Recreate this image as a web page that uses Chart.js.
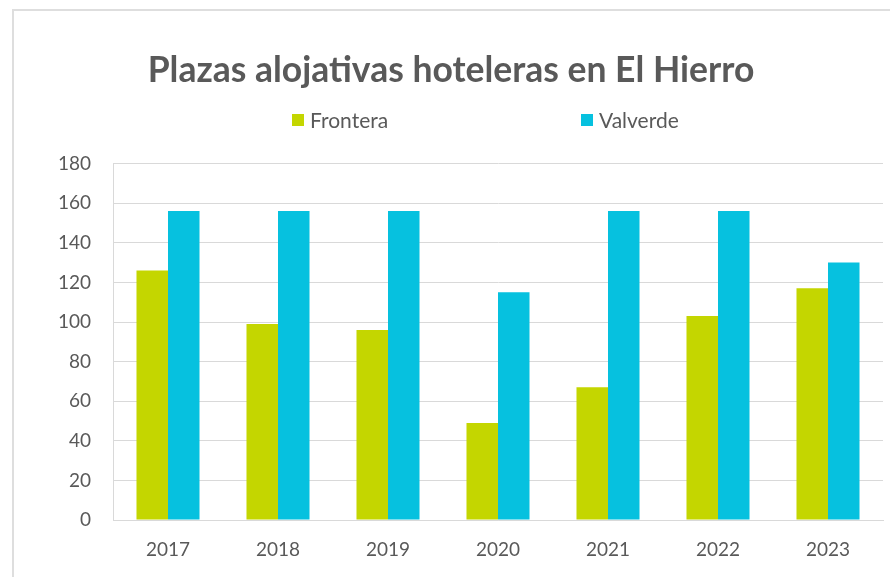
<!DOCTYPE html>
<html>
<head>
<meta charset="utf-8">
<script src="https://cdn.jsdelivr.net/npm/chart.js@4.4.0/dist/chart.umd.min.js"></script>
<style>
  html, body { margin: 0; padding: 0; background: #fff; overflow: hidden; }
  .frame { position: absolute; left: 12px; top: 9px; width: 1000px; height: 700px;
           border-left: 2px solid #dedede; border-top: 2px solid #dedede; }
  #chartBox { position: absolute; left: 0; top: 0; width: 902px; height: 577px; }
  .legend { position: absolute; left: 292px; top: 107px; display: flex;
            font-family: Lato, sans-serif; font-size: 21px; color: #595959; }
  .legend .item { display: flex; align-items: center; width: 289px; }
  .legend .item:last-child { width: auto; }
  .legend .box { width: 12px; height: 12px; margin-right: 6px; }
</style>
</head>
<body>
<div class="frame"></div>
<div id="chartBox"><canvas id="hotelChart" width="902" height="577"></canvas></div>
<div class="legend" id="legend"></div>
<script>
const years = ['2017', '2018', '2019', '2020', '2021', '2022', '2023'];
const frontera = [126, 99, 96, 49, 67, 103, 117];
const valverde = [156, 156, 156, 115, 156, 156, 130];
const seriesNames = ['Frontera', 'Valverde'];
const barColors = ['#c4d600', '#06c1df'];
const textColor = '#595959';
const gridColor = '#d9d9d9';

// legend drawn as html so the two entries can sit far apart like in excel
let legend = document.getElementById('legend');
seriesNames.forEach((name, i) => {
  let item = document.createElement('div');
  item.className = 'item';
  item.innerHTML = '<span class="box" style="background:' + barColors[i] + '"></span><span>' + name + '</span>';
  legend.appendChild(item);
});

const ctx = document.getElementById('hotelChart');

new Chart(ctx, {
  type: 'bar',
  data: {
    labels: years,
    datasets: [{
      label: seriesNames[0],
      data: frontera,
      backgroundColor: barColors[0]
    }, {
      label: seriesNames[1],
      data: valverde,
      backgroundColor: barColors[1]
    }]
  },
  options: {
    responsive: false,
    animation: false,
    categoryPercentage: 0.573,
    barPercentage: 1,
    layout: {
      padding: { left: 19, right: 19, top: 0, bottom: 0 }
    },
    plugins: {
      legend: { display: false },
      tooltip: { enabled: false },
      title: {
        display: true,
        text: 'Plazas alojativas hoteleras en El Hierro',
        color: textColor,
        font: { family: 'Lato', size: 35.5, weight: 'bold' },
        padding: { top: 49, bottom: 72 }
      }
    },
    scales: {
      x: {
        grid: { display: false },
        border: { display: true, color: gridColor, width: 1 },
        ticks: { color: textColor, font: { family: 'Lato', size: 19 }, padding: 10 },
        afterFit: (scale) => { scale.height = 57; }
      },
      y: {
        min: 0,
        max: 180,
        ticks: { stepSize: 20, color: textColor, font: { family: 'Lato', size: 19 }, padding: 22 },
        grid: { color: gridColor, lineWidth: 1, drawTicks: false },
        border: { display: true, color: gridColor, width: 1 },
        afterFit: (scale) => { scale.width = 94; }
      }
    }
  }
});
</script>
</body>
</html>
